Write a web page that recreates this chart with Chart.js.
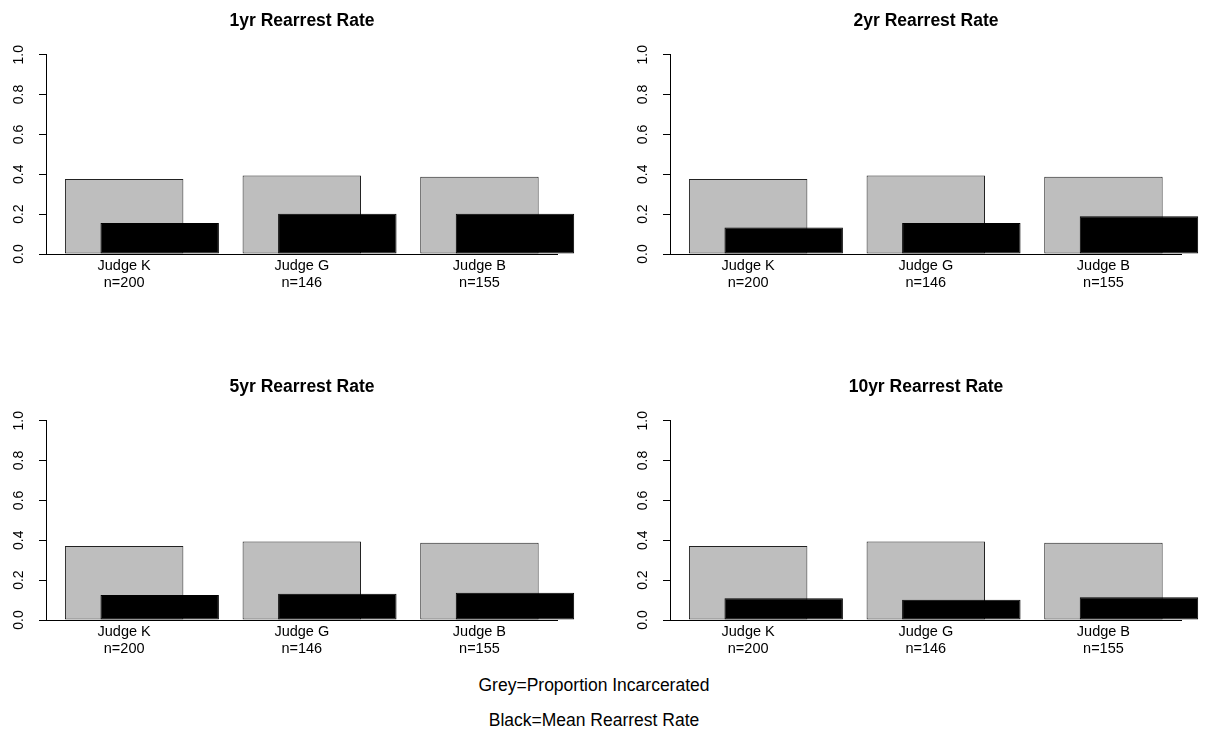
<!DOCTYPE html>
<html>
<head>
<meta charset="utf-8">
<script src="https://cdn.jsdelivr.net/npm/chart.js@4.4.0/dist/chart.umd.min.js"></script>
<style>
  html, body { margin: 0; overflow: hidden; }
  body { background: #fff; width: 1209px; height: 734px; position: relative;
         font-family: "Liberation Sans", Arial, sans-serif; }
  .panel { position: absolute; width: 604px; height: 300px; }
  .note { position: absolute; left: 0; width: 1188px; text-align: center; font-size: 17.5px; line-height: 20px; color: #000; }
</style>
</head>
<body>
<div class="panel" style="left:0;top:0"><canvas id="chart-0" width="604" height="300"></canvas></div>
<div class="panel" style="left:624px;top:0"><canvas id="chart-1" width="604" height="300"></canvas></div>
<div class="panel" style="left:0;top:366px"><canvas id="chart-2" width="604" height="300"></canvas></div>
<div class="panel" style="left:624px;top:366px"><canvas id="chart-3" width="604" height="300"></canvas></div>
<div class="note" style="top:675px">Grey=Proportion Incarcerated</div>
<div class="note" style="top:710px">Black=Mean Rearrest Rate</div>

<script>
const judges = ['Judge K', 'Judge G', 'Judge B'];
const sampleSizes = [200, 146, 155];
const panelTitles = ['1yr Rearrest Rate', '2yr Rearrest Rate', '5yr Rearrest Rate', '10yr Rearrest Rate'];
const yTicks = [0, 0.2, 0.4, 0.6, 0.8, 1.0];

// grey bars = proportion incarcerated
const incarcerated1yr = [0.376, 0.394, 0.387];
const incarcerated2yr = [0.376, 0.394, 0.387];
const incarcerated5yr = [0.371, 0.394, 0.387];
const incarcerated10yr = [0.371, 0.394, 0.387];

// black bars = mean rearrest rate
const rearrest1yr = [0.155, 0.202, 0.202];
const rearrest2yr = [0.133, 0.155, 0.189];
const rearrest5yr = [0.125, 0.132, 0.137];
const rearrest10yr = [0.109, 0.102, 0.114];

const greyByPanel = [incarcerated1yr, incarcerated2yr, incarcerated5yr, incarcerated10yr];
const blackByPanel = [rearrest1yr, rearrest2yr, rearrest5yr, rearrest10yr];

// R barplot layout: width 1, space 0.5 -> centres 1, 2.5, 4; black bars shifted right
const barX = judges.map((j, i) => 1 + 1.5 * i);
const blackShift = 0.3;

Chart.defaults.font.family = '"Liberation Sans", Arial, sans-serif';
Chart.defaults.color = '#000';

function drawPanel(id, title, greyVals, blackVals) {
  let greyData = greyVals.map((v, i) => ({x: barX[i], y: v}));
  let blackData = blackVals.map((v, i) => ({x: barX[i] + blackShift, y: v}));
  new Chart(document.getElementById(id), {
    type: 'bar',
    data: {
      datasets: [
        {label: 'Mean Rearrest Rate', data: blackData, backgroundColor: '#000', borderColor: '#000',
         borderWidth: 1, borderSkipped: false, order: 0, clip: false},
        {label: 'Proportion Incarcerated', data: greyData, backgroundColor: '#bebebe', borderColor: '#222',
         borderWidth: 1, borderSkipped: false, order: 1, clip: false}
      ]
    },
    options: {
      responsive: false,
      animation: false,
      devicePixelRatio: 1,
      layout: {padding: 0},
      datasets: {bar: {grouped: false, categoryPercentage: 1, barPercentage: 1 / blackShift}},
      plugins: {
        legend: {display: false},
        tooltip: {enabled: false},
        title: {
          display: true, text: title, color: '#000',
          font: {size: 17.5, weight: 'bold', lineHeight: 1.2},
          padding: {top: 10.5, bottom: 23.2}
        }
      },
      scales: {
        x: {
          type: 'linear', min: 0.34, max: 4.66, offset: false,
          grid: {display: false, drawTicks: false},
          border: {display: true, color: '#000', width: 1},
          afterBuildTicks: s => { s.ticks = barX.map(v => ({value: v})); },
          afterFit: s => { s.height = 46; },
          ticks: {
            autoSkip: false, maxRotation: 0, padding: 4, color: '#000',
            font: {size: 14.5, lineHeight: 1.14},
            callback: (v, i) => [judges[i], 'n=' + sampleSizes[i]]
          }
        },
        y: {
          position: 'left', min: 0, max: 1,
          afterBuildTicks: s => { s.ticks = yTicks.map(v => ({value: v})); },
          afterFit: s => { s.width = 46; },
          grid: {drawOnChartArea: false, drawTicks: true, tickLength: 7, color: '#000'},
          border: {display: true, color: '#000', width: 1},
          ticks: {
            autoSkip: false, minRotation: 90, maxRotation: 90, crossAlign: 'center', padding: 10.3, color: '#000',
            font: {size: 14},
            callback: v => v.toFixed(1)
          }
        },
        // empty right-hand box so the title centres over the plot region like R does
        spacer: {
          type: 'linear', position: 'right', display: true,
          grid: {display: false}, border: {display: false}, ticks: {display: false},
          afterFit: s => { s.width = 46.4; }
        }
      }
    }
  });
}

for (let k in panelTitles) {
  drawPanel(`chart-${k}`, panelTitles[k], greyByPanel[k], blackByPanel[k]);
}
</script>
</body>
</html>
